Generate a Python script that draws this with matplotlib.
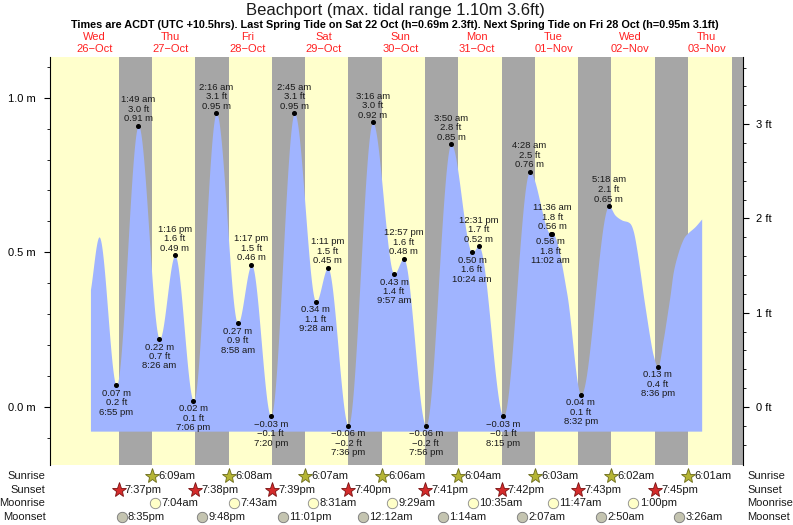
import matplotlib
matplotlib.use("Agg")
import matplotlib.pyplot as plt
import matplotlib.transforms as mtransforms
import numpy as np

plt.rcParams['font.family'] = ['Liberation Sans', 'DejaVu Sans']

# ---------------- data ----------------
title = "Beachport (max. tidal range 1.10m 3.6ft)"
subtitle = ("Times are ACDT (UTC +10.5hrs). Last Spring Tide on Sat 22 Oct (h=0.69m 2.3ft). "
            "Next Spring Tide on Fri 28 Oct (h=0.95m 3.1ft)")
day_names = ["Wed", "Thu", "Fri", "Sat", "Sun", "Mon", "Tue", "Wed", "Thu"]
day_dates = ["26\u2212Oct", "27\u2212Oct", "28\u2212Oct", "29\u2212Oct", "30\u2212Oct",
             "31\u2212Oct", "01\u2212Nov", "02\u2212Nov", "03\u2212Nov"]

# tide extremes (day index 0 = Wed 26-Oct)
tide_day = [0, 1, 1, 1, 1, 2, 2, 2, 2, 3, 3, 3, 3, 4, 4, 4, 4, 5, 5, 5, 5, 6, 6, 6, 6, 7, 7]
tide_clock = ["6:55 pm", "1:49 am", "8:26 am", "1:16 pm", "7:06 pm", "2:16 am", "8:58 am",
              "1:17 pm", "7:20 pm", "2:45 am", "9:28 am", "1:11 pm", "7:36 pm", "3:16 am",
              "9:57 am", "12:57 pm", "7:56 pm", "3:50 am", "10:24 am", "12:31 pm", "8:15 pm",
              "4:28 am", "11:02 am", "11:36 am", "8:32 pm", "5:18 am", "8:36 pm"]
tide_m = [0.07, 0.91, 0.22, 0.49, 0.02, 0.95, 0.27, 0.46, -0.03, 0.95, 0.34, 0.45, -0.06, 0.92,
          0.43, 0.48, -0.06, 0.85, 0.50, 0.52, -0.03, 0.76, 0.56, 0.56, 0.04, 0.65, 0.13]
tide_ft = ["0.2", "3.0", "0.7", "1.6", "0.1", "3.1", "0.9", "1.5", "\u22120.1", "3.1", "1.1",
           "1.5", "\u22120.2", "3.0", "1.4", "1.6", "\u22120.2", "2.8", "1.6", "1.7", "\u22120.1",
           "2.5", "1.8", "1.8", "0.1", "2.1", "0.4"]
tide_kind = "LHLHLHLHLHLHLHLHLHLHLHLHLHL"

# unlabelled curve points (hours since 26-Oct 00:00)
curve_h = [10.8, 13.5, 160.1,
           175.2, 177.3, 179.9, 181.0, 182.0, 183.1, 184.1, 185.2, 186.2, 187.2,
           190.4, 191.4, 192.5, 193.5, 195.1, 196.7, 197.9, 200.3, 202.4]
curve_m = [0.38, 0.55, 0.368,
           0.621, 0.605, 0.594, 0.567, 0.513, 0.437, 0.362, 0.287, 0.222, 0.168,
           0.222, 0.287, 0.362, 0.437, 0.502, 0.545, 0.561, 0.583, 0.608]
curve_turn = [False, True, False,
              False, False, False, False, False, False, False, False, False, False,
              False, False, False, False, False, False, False, False, False]

sunrise_day = [1, 2, 3, 4, 5, 6, 7, 8]
sunrise = ["6:09am", "6:08am", "6:07am", "6:06am", "6:04am", "6:03am", "6:02am", "6:01am"]
sunset_day = [0, 1, 2, 3, 4, 5, 6, 7]
sunset = ["7:37pm", "7:38pm", "7:39pm", "7:40pm", "7:41pm", "7:42pm", "7:43pm", "7:45pm"]
last_sunset_day = 8
last_sunset = "7:46pm"
moonrise_day = [1, 2, 3, 4, 5, 6, 7]
moonrise = ["7:04am", "7:43am", "8:31am", "9:29am", "10:35am", "11:47am", "1:00pm"]
moonset_day = [0, 1, 2, 4, 5, 6, 7, 8]
moonset = ["8:35pm", "9:48pm", "11:01pm", "12:12am", "1:14am", "2:07am", "2:50am", "3:26am"]

# ---------------- style ----------------
W, H = 793, 525
YELLOW = "#ffffcc"
GRAY = "#a6a6a6"
BLUE = "#a0b4ff"
RED = "#ff2222"
TXT = "#1a1a1a"
XLIM = (-1.88, 215.2)
YLIM = (-0.1875, 1.1316)
FILL_BASE = -0.078


def clock_to_h(s):
    s = s.replace(" ", "")
    ampm = s[-2:]
    hh, mm = s[:-2].split(":")
    hh = int(hh) % 12
    if ampm == "pm":
        hh += 12
    return hh + int(mm) / 60.0


def abs_h(day, clock):
    return day * 24 + clock_to_h(clock)


tide_h = [abs_h(d, c) for d, c in zip(tide_day, tide_clock)]

# knots for the tide curve
knots = [(h, m, True) for h, m in zip(tide_h, tide_m)]
knots += [(h, m, t) for h, m, t in zip(curve_h, curve_m, curve_turn)]
knots.sort(key=lambda k: k[0])
kh = np.array([k[0] for k in knots])
km = np.array([k[1] for k in knots])
kt = [k[2] for k in knots]
n = len(kh)
slopes = np.zeros(n)
for i in range(n):
    if kt[i]:
        slopes[i] = 0.0
    elif i == 0:
        slopes[i] = (km[1] - km[0]) / (kh[1] - kh[0])
    elif i == n - 1:
        slopes[i] = (km[-1] - km[-2]) / (kh[-1] - kh[-2])
    else:
        slopes[i] = (km[i + 1] - km[i - 1]) / (kh[i + 1] - kh[i - 1])

xs, ys = [], []
for i in range(n - 1):
    h0, h1 = kh[i], kh[i + 1]
    dh = h1 - h0
    s = np.linspace(0, 1, 40, endpoint=False)
    h00 = 2 * s**3 - 3 * s**2 + 1
    h10 = s**3 - 2 * s**2 + s
    h01 = -2 * s**3 + 3 * s**2
    h11 = s**3 - s**2
    y = h00 * km[i] + h10 * dh * slopes[i] + h01 * km[i + 1] + h11 * dh * slopes[i + 1]
    xs.extend(h0 + s * dh)
    ys.extend(y)
xs.append(kh[-1])
ys.append(km[-1])

# ---------------- figure ----------------
fig = plt.figure(figsize=(W / 100, H / 100), dpi=100)
ax = fig.add_axes([50 / W, 60 / H, 692.5 / W, 408 / H])
ax.set_facecolor(YELLOW)
ax.set_xlim(*XLIM)
ax.set_ylim(*YLIM)

# nights
for i in range(len(sunset)):
    s0 = abs_h(sunset_day[i], sunset[i])
    s1 = abs_h(sunrise_day[i], sunrise[i])
    ax.axvspan(s0, s1, color=GRAY, lw=0, zorder=0.5)
ax.axvspan(abs_h(last_sunset_day, last_sunset), XLIM[1], color=GRAY, lw=0, zorder=0.5)

ax.fill_between(xs, FILL_BASE, ys, color=BLUE, lw=0, zorder=1)

ax.plot(tide_h, tide_m, "o", color="black", ms=2.6, zorder=3)
lab_fs = 6.8
for h, m, ft, c, k in zip(tide_h, tide_m, tide_ft, tide_clock, tide_kind):
    mtxt = ("%.2f m" % m).replace("-", "\u2212")
    if k == "H":
        lines = [(mtxt, 5.0), (ft + " ft", 11.9), (c, 18.7)]
    else:
        lines = [(mtxt, -5.8), (ft + " ft", -12.6), (c, -19.4)]
    for t, off in lines:
        ax.annotate(t, (h, m), xytext=(0, off), textcoords="offset points",
                    ha="center", va="center", fontsize=lab_fs, color=TXT, zorder=4)

# axes styling
for sp in ["top", "bottom", "right"]:
    ax.spines[sp].set_visible(False)
ax.spines["left"].set_color("black")
ax.set_xticks([])
ax.set_yticks([0.0, 0.5, 1.0])
ax.set_yticklabels(["0.0 m", "0.5 m", "1.0 m"])
ax.set_yticks(np.round(np.arange(-0.1, 1.11, 0.1), 2), minor=True)
ax.tick_params(axis="y", which="major", length=4, pad=6, labelsize=8, direction="out")
ax.tick_params(axis="y", which="minor", length=2.5, direction="out")

ax2 = ax.twinx()
ax2.set_ylim(YLIM[0] / 0.3048, YLIM[1] / 0.3048)
for sp in ["top", "bottom", "left"]:
    ax2.spines[sp].set_visible(False)
ax2.set_yticks([0, 1, 2, 3])
ax2.set_yticklabels(["0 ft", "1 ft", "2 ft", "3 ft"])
ax2.set_yticks(np.round(np.arange(-0.4, 3.61, 0.2), 1), minor=True)
ax2.tick_params(axis="y", which="major", length=4, pad=6, labelsize=8, direction="out")
ax2.tick_params(axis="y", which="minor", length=2.5, direction="out")

# titles
fig.text(395 / W, 1 - 11 / H, title, ha="center", va="center", fontsize=12, color=TXT)
fig.text(395 / W, 1 - 25.5 / H, subtitle, ha="center", va="center", fontsize=7.85,
         fontweight="bold", color="black")

blend = mtransforms.blended_transform_factory(ax.transData, fig.transFigure)
for i, (dn, dd) in enumerate(zip(day_names, day_dates)):
    ax.text(i * 24 + 12, 1 - 36.7 / H, dn, transform=blend, ha="center", va="center",
            fontsize=8, color=RED)
    ax.text(i * 24 + 12, 1 - 49.3 / H, dd, transform=blend, ha="center", va="center",
            fontsize=8, color=RED)

# sun / moon rows
rows = [("Sunrise", 476, sunrise_day, sunrise, dict(marker="*", ms=11, mfc="#b5b535", mec="#6b6b1a", mew=0.6)),
        ("Sunset", 490, sunset_day, sunset, dict(marker="*", ms=11, mfc="#d42b2b", mec="#7a1010", mew=0.6)),
        ("Moonrise", 503, moonrise_day, moonrise, dict(marker="o", ms=7.5, mfc="#ffffc8", mec="#888888", mew=0.6)),
        ("Moonset", 517, moonset_day, moonset, dict(marker="o", ms=7.5, mfc="#c4c4b0", mec="#777777", mew=0.6))]
for name, ypx, dlist, tlist, mk in rows:
    yf = 1 - ypx / H
    fig.text(45.5 / W, yf, name, ha="right", va="center", fontsize=8, color=TXT)
    fig.text(747 / W, yf, name, ha="left", va="center", fontsize=8, color=TXT)
    hh = [abs_h(d, t) for d, t in zip(dlist, tlist)]
    ax.plot(hh, [yf] * len(hh), linestyle="none", transform=blend, clip_on=False, zorder=5, **mk)
    for h, t in zip(hh, tlist):
        ax.annotate(t, (h, yf), xycoords=blend, xytext=(4.5, 0), textcoords="offset points",
                    ha="left", va="center", fontsize=8, color=TXT, annotation_clip=False)

fig.savefig("out.png", dpi=100)
